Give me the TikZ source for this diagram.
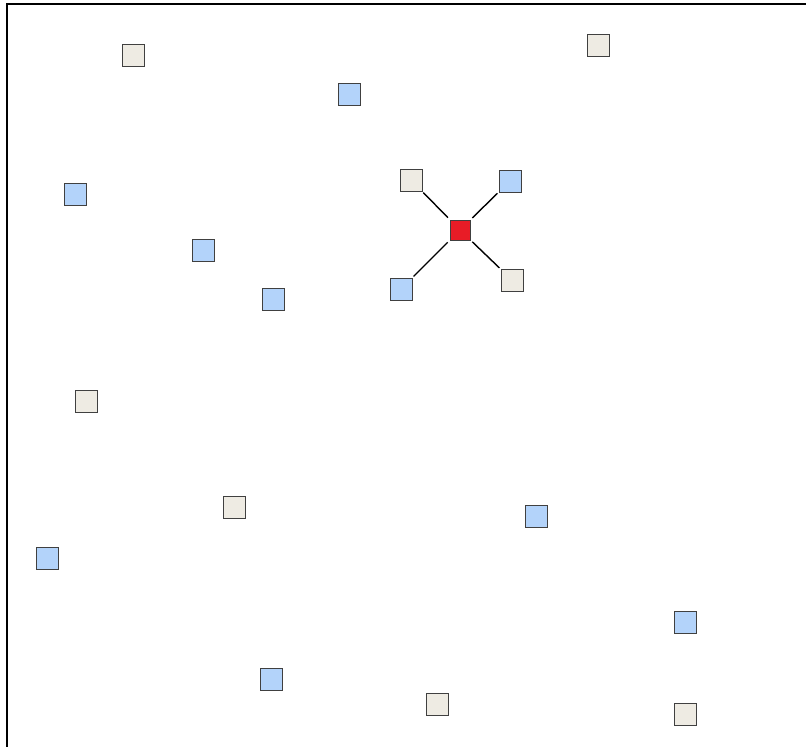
\documentclass[tikz,border=0pt]{standalone}
\usepackage{tikz}
\usetikzlibrary{positioning}

\definecolor{sqbeige}{HTML}{EEEBE3}
\definecolor{sqblue}{HTML}{B3D3FA}
\definecolor{sqred}{HTML}{E81C26}

\begin{document}
\begin{tikzpicture}[
    x=1pt, y=-1pt,
    % --- node styles ---
    cell/.style  = {rectangle, draw=black!75, line width=1pt,
                    minimum size=22pt, inner sep=0pt},
    beige/.style = {cell, fill=sqbeige},
    blue/.style  = {cell, fill=sqblue},
    hub/.style   = {cell, fill=sqred, minimum size=20pt},
    link/.style  = {line width=1.4pt, black},
]

\useasboundingbox (0,0) rectangle (806,747);

%============ FRAME ============
\draw[line width=1.2pt] (7,747) -- (7,4) -- (806,4);

%============ SCATTERED CELLS ============
\foreach \n/\x/\y in {b1/133/55, b2/598/45, b3/86/401, b4/234/507,
                      b5/437/704, b6/685/714}
  \node (\n) [beige] at (\x,\y) {};

\foreach \n/\x/\y in {u1/349/94, u2/75/194, u3/203/250, u4/273/299,
                      u5/536/516, u6/47/558, u7/685/622, u8/271/679}
  \node (\n) [blue] at (\x,\y) {};

%============ STAR ============
\node (hub) [hub] at (460,230) {};
\node (nw) [beige] at (411,180) {};
\node (ne) [blue]  at (510,181) {};
\node (sw) [blue]  at (401,289) {};
\node (se) [beige] at (512,280) {};

\foreach \a in {nw, ne, sw, se}
  \draw[link, shorten <=2.5pt, shorten >=1.5pt] (hub) -- (\a);

\end{tikzpicture}
\end{document}
